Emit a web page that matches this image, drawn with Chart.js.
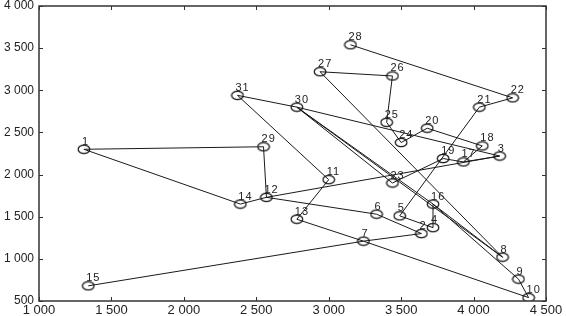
<!DOCTYPE html>
<html>
<head>
<meta charset="utf-8">
<script src="https://cdn.jsdelivr.net/npm/chart.js@4/dist/chart.umd.min.js"></script>
<style>
  html, body { margin: 0; padding: 0; background: #fff; }
  #wrap { width: 566px; height: 316px; }
</style>
</head>
<body>
<div id="wrap"><canvas id="chart"></canvas></div>
<script>
// node numbers and their coordinates
const pointIds = [1, 2, 3, 4, 5, 6, 7, 8, 9, 10, 11, 12, 13, 14, 15, 16,
  17, 18, 19, 20, 21, 22, 23, 24, 25, 26, 27, 28, 29, 30, 31];
const xValues = [1310, 3640, 4180, 3720, 3490, 3330, 3240, 4200, 4310, 4380, 3000, 2570, 2780, 2390, 1340, 3720,
  3930, 4060, 3790, 3680, 4040, 4270, 3440, 3500, 3400, 3440, 2940, 3150, 2550, 2780, 2370];
const yValues = [2300, 1300, 2220, 1370, 1510, 1530, 1210, 1020, 760, 540, 1940, 1730, 1470, 1650, 680, 1650,
  2150, 2340, 2190, 2550, 2800, 2910, 1900, 2380, 2620, 3170, 3220, 3540, 2330, 2800, 2940];

// links between nodes (node numbers)
const edges = [
  [1, 29], [1, 14], [14, 12], [29, 12], [12, 6], [12, 3], [6, 2], [2, 7],
  [7, 15], [7, 13], [7, 10], [13, 11], [11, 31], [31, 30], [30, 3], [20, 18],
  [24, 20], [25, 24], [26, 25], [27, 26], [27, 8], [28, 22], [22, 21], [21, 5],
  [5, 4], [4, 16], [16, 8], [16, 9], [30, 16], [30, 8], [30, 23], [9, 10],
  [23, 19], [19, 17], [17, 3], [18, 17]
];

const xTicks = [1000, 1500, 2000, 2500, 3000, 3500, 4000, 4500];
const yTicks = [500, 1000, 1500, 2000, 2500, 3000, 3500, 4000];

const fmt = v => String(v).replace(/\B(?=(\d{3})+(?!\d))/g, ' ');
const pt = id => ({ x: xValues[id - 1], y: yValues[id - 1] });

// open ellipse used as marker
const ell = document.createElement('canvas');
ell.width = 14; ell.height = 11;
const g = ell.getContext('2d');
g.strokeStyle = '#111';
g.lineWidth = 1.2;
g.beginPath();
g.ellipse(7, 5.5, 5.8, 4.2, 0, 0, Math.PI * 2);
g.stroke();

const datasets = [{
  label: 'nodes',
  data: pointIds.map(pt),
  pointStyle: ell,
  showLine: false
}];
edges.forEach(([a, b]) => {
  datasets.push({
    label: a + '-' + b,
    data: [pt(a), pt(b)],
    showLine: true,
    borderColor: '#1a1a1a',
    borderWidth: 1,
    pointRadius: 0,
    pointHoverRadius: 0
  });
});

// frame, inward ticks and node numbers
const decor = {
  id: 'decor',
  afterDatasetsDraw(chart) {
    const { ctx, chartArea: a, scales } = chart;
    ctx.save();
    ctx.strokeStyle = '#333';
    ctx.lineWidth = 1.5;
    ctx.strokeRect(a.left, a.top, a.right - a.left, a.bottom - a.top);
    ctx.lineWidth = 1;
    ctx.beginPath();
    xTicks.forEach(v => {
      const x = Math.round(scales.x.getPixelForValue(v)) + 0.5;
      ctx.moveTo(x, a.top); ctx.lineTo(x, a.top + 4);
      ctx.moveTo(x, a.bottom); ctx.lineTo(x, a.bottom - 4);
    });
    yTicks.forEach(v => {
      const y = Math.round(scales.y.getPixelForValue(v)) + 0.5;
      ctx.moveTo(a.left, y); ctx.lineTo(a.left + 4, y);
      ctx.moveTo(a.right, y); ctx.lineTo(a.right - 4, y);
    });
    ctx.stroke();

    const meta = chart.getDatasetMeta(0);
    ctx.fillStyle = '#222';
    ctx.font = '11px "Liberation Sans", Arial, sans-serif';
    ctx.letterSpacing = '1px';
    ctx.textAlign = 'left';
    ctx.textBaseline = 'bottom';
    meta.data.forEach((el, i) => {
      ctx.fillText(String(pointIds[i]), el.x - 2, el.y - 2);
    });
    ctx.restore();
  }
};

new Chart(document.getElementById('chart'), {
  type: 'scatter',
  data: { datasets },
  options: {
    responsive: true,
    maintainAspectRatio: false,
    animation: false,
    layout: { padding: { top: 6, right: 20, left: 0, bottom: 0 } },
    plugins: { legend: { display: false }, tooltip: { enabled: false } },
    scales: {
      x: {
        type: 'linear',
        min: 1000, max: 4500,
        afterBuildTicks: s => { s.ticks = xTicks.map(v => ({ value: v })); },
        afterFit: s => { s.height = 15; },
        grid: { display: false, drawTicks: false },
        border: { display: false },
        ticks: {
          padding: 2,
          color: '#222',
          font: { family: '"Liberation Sans", Arial, sans-serif', size: 13 },
          maxRotation: 0,
          callback: v => fmt(v)
        }
      },
      y: {
        type: 'linear',
        min: 500, max: 4000,
        afterBuildTicks: s => { s.ticks = yTicks.map(v => ({ value: v })); },
        afterFit: s => { s.width = 39; s.paddingTop = 0; s.paddingBottom = 0; },
        grid: { display: false, drawTicks: false },
        border: { display: false },
        ticks: {
          padding: 5,
          color: '#222',
          font: { family: '"Liberation Sans", Arial, sans-serif', size: 12 },
          callback: v => fmt(v)
        }
      }
    }
  },
  plugins: [decor]
});
</script>
</body>
</html>
